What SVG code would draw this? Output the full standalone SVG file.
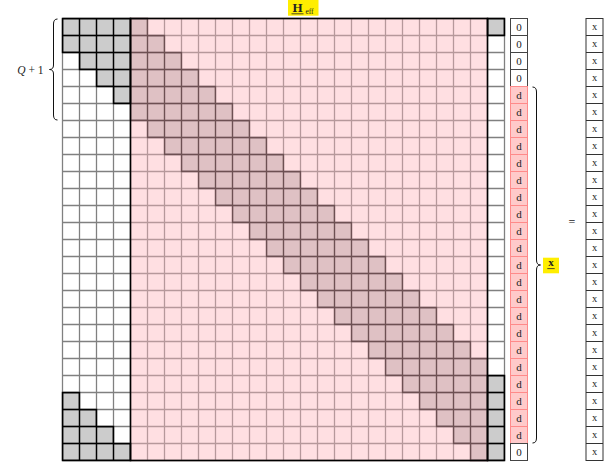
<svg xmlns="http://www.w3.org/2000/svg" xmlns:xlink="http://www.w3.org/1999/xlink" width="608" height="467" viewBox="0 0 608 467">
<style>
.t{font-family:"Liberation Serif","DejaVu Serif",serif;fill:#222;text-anchor:middle}
.v0{fill:#fff;stroke:#444;stroke-width:1}
.vd{fill:#ffcaca;stroke:#ff8a8a;stroke-width:1}
.vx{fill:#fff;stroke:#333;stroke-width:1}
.br{fill:none;stroke:#111;stroke-width:1}
.hl{fill:#ffee00}
</style>
<defs>
<path id="grid" fill="none" d="M62.5 18.5H504.5M62.5 35.5H504.5M62.5 52.5H504.5M62.5 69.5H504.5M62.5 86.5H504.5M62.5 103.5H504.5M62.5 120.5H504.5M62.5 137.5H504.5M62.5 154.5H504.5M62.5 171.5H504.5M62.5 188.5H504.5M62.5 205.5H504.5M62.5 222.5H504.5M62.5 239.5H504.5M62.5 256.5H504.5M62.5 273.5H504.5M62.5 290.5H504.5M62.5 307.5H504.5M62.5 324.5H504.5M62.5 341.5H504.5M62.5 358.5H504.5M62.5 375.5H504.5M62.5 392.5H504.5M62.5 409.5H504.5M62.5 426.5H504.5M62.5 443.5H504.5M62.5 460.5H504.5M62.5 18.5V460.5M79.5 18.5V460.5M96.5 18.5V460.5M113.5 18.5V460.5M130.5 18.5V460.5M147.5 18.5V460.5M164.5 18.5V460.5M181.5 18.5V460.5M198.5 18.5V460.5M215.5 18.5V460.5M232.5 18.5V460.5M249.5 18.5V460.5M266.5 18.5V460.5M283.5 18.5V460.5M300.5 18.5V460.5M317.5 18.5V460.5M334.5 18.5V460.5M351.5 18.5V460.5M368.5 18.5V460.5M385.5 18.5V460.5M402.5 18.5V460.5M419.5 18.5V460.5M436.5 18.5V460.5M453.5 18.5V460.5M470.5 18.5V460.5M487.5 18.5V460.5M504.5 18.5V460.5"/>
<polygon id="band" points="130.5,18.5 147.5,18.5 147.5,35.5 164.5,35.5 164.5,52.5 181.5,52.5 181.5,69.5 198.5,69.5 198.5,86.5 215.5,86.5 215.5,103.5 232.5,103.5 232.5,120.5 249.5,120.5 249.5,137.5 266.5,137.5 266.5,154.5 283.5,154.5 283.5,171.5 300.5,171.5 300.5,188.5 317.5,188.5 317.5,205.5 334.5,205.5 334.5,222.5 351.5,222.5 351.5,239.5 368.5,239.5 368.5,256.5 385.5,256.5 385.5,273.5 402.5,273.5 402.5,290.5 419.5,290.5 419.5,307.5 436.5,307.5 436.5,324.5 453.5,324.5 453.5,341.5 470.5,341.5 470.5,358.5 487.5,358.5 487.5,460.5 470.5,460.5 470.5,443.5 453.5,443.5 453.5,426.5 436.5,426.5 436.5,409.5 419.5,409.5 419.5,392.5 402.5,392.5 402.5,375.5 385.5,375.5 385.5,358.5 368.5,358.5 368.5,341.5 351.5,341.5 351.5,324.5 334.5,324.5 334.5,307.5 317.5,307.5 317.5,290.5 300.5,290.5 300.5,273.5 283.5,273.5 283.5,256.5 266.5,256.5 266.5,239.5 249.5,239.5 249.5,222.5 232.5,222.5 232.5,205.5 215.5,205.5 215.5,188.5 198.5,188.5 198.5,171.5 181.5,171.5 181.5,154.5 164.5,154.5 164.5,137.5 147.5,137.5 147.5,120.5 130.5,120.5"/>
<polygon id="gTL" points="62.5,18.5 130.5,18.5 130.5,103.5 113.5,103.5 113.5,86.5 96.5,86.5 96.5,69.5 79.5,69.5 79.5,52.5 62.5,52.5"/>
<polygon id="gBL" points="62.5,392.5 79.5,392.5 79.5,409.5 96.5,409.5 96.5,426.5 113.5,426.5 113.5,443.5 130.5,443.5 130.5,460.5 62.5,460.5"/>
<rect id="gTR" x="487.5" y="18.5" width="17" height="17"/>
<rect id="gBR" x="487.5" y="375.5" width="17" height="85"/>
<clipPath id="cW"><rect x="61" y="17" width="69.5" height="445"/><rect x="487.5" y="17" width="19" height="445"/></clipPath>
<clipPath id="cP"><rect x="130.5" y="17" width="357" height="445"/></clipPath>
<clipPath id="cB"><use xlink:href="#band"/></clipPath>
<clipPath id="cG"><use xlink:href="#gTL"/><use xlink:href="#gBL"/><use xlink:href="#gTR"/><use xlink:href="#gBR"/></clipPath>
</defs>

<g id="matrix">
<rect x="62.5" y="18.5" width="68" height="442" fill="#fff"/>
<rect x="487.5" y="18.5" width="17" height="442" fill="#fff"/>
<rect x="130.5" y="18.5" width="357" height="442" fill="#ffdfe2"/>
<use xlink:href="#band" fill="#dfc1c4"/>
<g fill="#cccccc"><use xlink:href="#gTL"/><use xlink:href="#gBL"/><use xlink:href="#gTR"/><use xlink:href="#gBR"/></g>
<use xlink:href="#grid" stroke="#808080" stroke-width="1.3" clip-path="url(#cW)"/>
<use xlink:href="#grid" stroke="#b6989b" stroke-width="1.3" clip-path="url(#cP)"/>
<use xlink:href="#grid" stroke="#6d5053" stroke-width="1.3" clip-path="url(#cB)"/>
<use xlink:href="#grid" stroke="#000" stroke-width="1.4" clip-path="url(#cG)"/>
<use xlink:href="#band" fill="none" stroke="#6d5053" stroke-width="1.3"/>
<g fill="none" stroke="#000" stroke-width="1.5"><use xlink:href="#gTL"/><use xlink:href="#gBL"/><use xlink:href="#gTR"/><use xlink:href="#gBR"/></g>
<rect x="130.5" y="18.5" width="357" height="442" fill="none" stroke="#000" stroke-width="1.6"/>
</g>

<g id="title">
<rect class="hl" x="288" y="0" width="30.5" height="15.7"/>
<text class="t" x="297.5" y="12" style="font-weight:bold;font-size:13px">H</text>
<line x1="291.5" y1="13.8" x2="303.5" y2="13.8" stroke="#222" stroke-width="0.8"/>
<text class="t" x="309.5" y="14" style="font-size:7.5px">eff</text>
</g>

<g id="q-label">
<path class="br" d="M57.5 19Q53.5 19 53.5 24L53.5 65Q53.5 69.5 49.5 69.5Q53.5 69.5 53.5 74L53.5 115Q53.5 120 57.5 120"/>
<text class="t" x="43.5" y="74" style="font-size:11.5px;text-anchor:end"><tspan font-style="italic">Q</tspan> + 1</text>
</g>

<g id="vector-d">
<rect class="v0" x="510.5" y="18.5" width="17" height="17"/>
<rect class="v0" x="510.5" y="35.5" width="17" height="17"/>
<rect class="v0" x="510.5" y="52.5" width="17" height="17"/>
<rect class="v0" x="510.5" y="69.5" width="17" height="17"/>
<rect class="vd" x="510.5" y="86.5" width="17" height="17"/>
<rect class="vd" x="510.5" y="103.5" width="17" height="17"/>
<rect class="vd" x="510.5" y="120.5" width="17" height="17"/>
<rect class="vd" x="510.5" y="137.5" width="17" height="17"/>
<rect class="vd" x="510.5" y="154.5" width="17" height="17"/>
<rect class="vd" x="510.5" y="171.5" width="17" height="17"/>
<rect class="vd" x="510.5" y="188.5" width="17" height="17"/>
<rect class="vd" x="510.5" y="205.5" width="17" height="17"/>
<rect class="vd" x="510.5" y="222.5" width="17" height="17"/>
<rect class="vd" x="510.5" y="239.5" width="17" height="17"/>
<rect class="vd" x="510.5" y="256.5" width="17" height="17"/>
<rect class="vd" x="510.5" y="273.5" width="17" height="17"/>
<rect class="vd" x="510.5" y="290.5" width="17" height="17"/>
<rect class="vd" x="510.5" y="307.5" width="17" height="17"/>
<rect class="vd" x="510.5" y="324.5" width="17" height="17"/>
<rect class="vd" x="510.5" y="341.5" width="17" height="17"/>
<rect class="vd" x="510.5" y="358.5" width="17" height="17"/>
<rect class="vd" x="510.5" y="375.5" width="17" height="17"/>
<rect class="vd" x="510.5" y="392.5" width="17" height="17"/>
<rect class="vd" x="510.5" y="409.5" width="17" height="17"/>
<rect class="vd" x="510.5" y="426.5" width="17" height="17"/>
<rect class="v0" x="510.5" y="443.5" width="17" height="17"/>
<g class="t" style="font-size:11px">
<text class="t" x="519" y="31.3">0</text>
<text class="t" x="519" y="48.3">0</text>
<text class="t" x="519" y="65.3">0</text>
<text class="t" x="519" y="82.3">0</text>
<text class="t" x="519" y="99.3">d</text>
<text class="t" x="519" y="116.3">d</text>
<text class="t" x="519" y="133.3">d</text>
<text class="t" x="519" y="150.3">d</text>
<text class="t" x="519" y="167.3">d</text>
<text class="t" x="519" y="184.3">d</text>
<text class="t" x="519" y="201.3">d</text>
<text class="t" x="519" y="218.3">d</text>
<text class="t" x="519" y="235.3">d</text>
<text class="t" x="519" y="252.3">d</text>
<text class="t" x="519" y="269.3">d</text>
<text class="t" x="519" y="286.3">d</text>
<text class="t" x="519" y="303.3">d</text>
<text class="t" x="519" y="320.3">d</text>
<text class="t" x="519" y="337.3">d</text>
<text class="t" x="519" y="354.3">d</text>
<text class="t" x="519" y="371.3">d</text>
<text class="t" x="519" y="388.3">d</text>
<text class="t" x="519" y="405.3">d</text>
<text class="t" x="519" y="422.3">d</text>
<text class="t" x="519" y="439.3">d</text>
<text class="t" x="519" y="456.3">0</text>
</g>
</g>

<g id="x-label">
<path class="br" d="M532.5 87Q536.5 87 536.5 92L536.5 260Q536.5 265 540.5 265Q536.5 265 536.5 270L536.5 438Q536.5 443 532.5 443"/>
<rect class="hl" x="543" y="257.7" width="16" height="15.6"/>
<text class="t" x="551" y="266.3" style="font-weight:bold;font-size:11px">x</text>
<line x1="547.3" y1="268.6" x2="554.7" y2="268.6" stroke="#222" stroke-width="0.8"/>
</g>

<text id="equals" class="t" x="572" y="226" style="font-size:12px">=</text>

<g id="vector-x">
<rect class="vx" x="586" y="18.5" width="17" height="442"/>
<path fill="none" stroke="#333" stroke-width="1" d="M586 35.5H603M586 52.5H603M586 69.5H603M586 86.5H603M586 103.5H603M586 120.5H603M586 137.5H603M586 154.5H603M586 171.5H603M586 188.5H603M586 205.5H603M586 222.5H603M586 239.5H603M586 256.5H603M586 273.5H603M586 290.5H603M586 307.5H603M586 324.5H603M586 341.5H603M586 358.5H603M586 375.5H603M586 392.5H603M586 409.5H603M586 426.5H603M586 443.5H603"/>
<g style="font-size:10.5px">
<text class="t" x="594.5" y="29.5">x</text>
<text class="t" x="594.5" y="46.5">x</text>
<text class="t" x="594.5" y="63.5">x</text>
<text class="t" x="594.5" y="80.5">x</text>
<text class="t" x="594.5" y="97.5">x</text>
<text class="t" x="594.5" y="114.5">x</text>
<text class="t" x="594.5" y="131.5">x</text>
<text class="t" x="594.5" y="148.5">x</text>
<text class="t" x="594.5" y="165.5">x</text>
<text class="t" x="594.5" y="182.5">x</text>
<text class="t" x="594.5" y="199.5">x</text>
<text class="t" x="594.5" y="216.5">x</text>
<text class="t" x="594.5" y="233.5">x</text>
<text class="t" x="594.5" y="250.5">x</text>
<text class="t" x="594.5" y="267.5">x</text>
<text class="t" x="594.5" y="284.5">x</text>
<text class="t" x="594.5" y="301.5">x</text>
<text class="t" x="594.5" y="318.5">x</text>
<text class="t" x="594.5" y="335.5">x</text>
<text class="t" x="594.5" y="352.5">x</text>
<text class="t" x="594.5" y="369.5">x</text>
<text class="t" x="594.5" y="386.5">x</text>
<text class="t" x="594.5" y="403.5">x</text>
<text class="t" x="594.5" y="420.5">x</text>
<text class="t" x="594.5" y="437.5">x</text>
<text class="t" x="594.5" y="454.5">x</text>
</g>
</g>
</svg>
